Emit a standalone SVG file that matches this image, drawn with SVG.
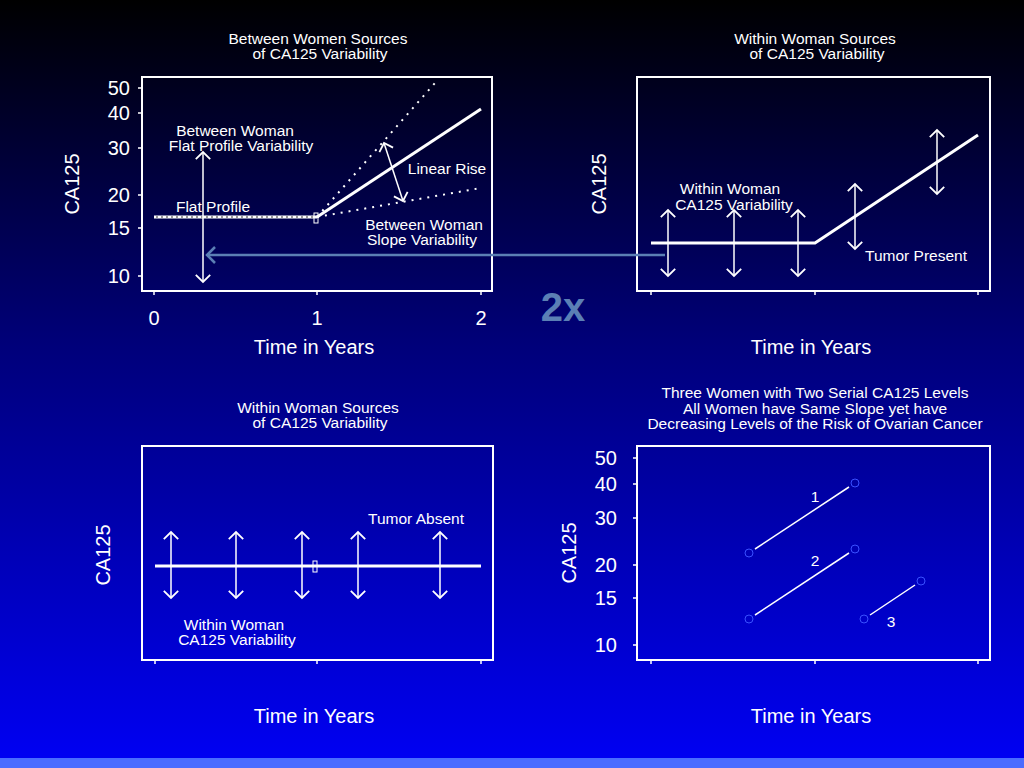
<svg xmlns="http://www.w3.org/2000/svg" width="1024" height="768" viewBox="0 0 1024 768">
<defs>
<linearGradient id="bg" x1="0" y1="0" x2="0" y2="1">
<stop offset="0" stop-color="#000000"/><stop offset="0.45" stop-color="#00007a"/><stop offset="1" stop-color="#0000f5"/>
</linearGradient>
<marker id="v" viewBox="0 0 20 20" refX="10" refY="10" markerWidth="18" markerHeight="18" markerUnits="userSpaceOnUse" orient="auto-start-reverse">
<path d="M2,2 L10,10 L2,18" fill="none" stroke="#fff" stroke-width="2"/>
</marker>
<marker id="b" viewBox="0 0 20 20" refX="11" refY="10" markerWidth="20" markerHeight="20" markerUnits="userSpaceOnUse" orient="auto">
<path d="M3,2 L11,10 L3,18" fill="none" stroke="#5b7fb5" stroke-width="2.5"/>
</marker>
</defs>
<style>
text{font-family:"Liberation Sans",Arial,sans-serif;fill:#fff}
.t{font-size:15.5px;text-anchor:middle}
.l{font-size:15.5px;text-anchor:middle}
.ax{font-size:20px;text-anchor:middle}
.tk{font-size:20px;text-anchor:end}
.box{fill:none;stroke:#fff;stroke-width:2}
.ln{stroke:#fff;stroke-width:3;fill:none}
.dot{stroke:#fff;stroke-width:2;stroke-dasharray:2 6;fill:none}
.da{stroke:#fff;stroke-width:1.5;fill:none;marker-start:url(#v);marker-end:url(#v)}
.th{stroke:#fff;stroke-width:1.5;fill:none}
.c{fill:none;stroke:#3a50ff;stroke-width:1}
</style>
<rect width="1024" height="768" fill="url(#bg)"/>
<rect y="758" width="1024" height="10" fill="#4a6cff"/>

<g id="panel-tl">
<text class="t" x="318" y="44">Between Women Sources</text>
<text class="t" x="320" y="59">of CA125 Variability</text>
<rect class="box" x="142" y="77" width="350" height="214"/>
<g class="th"><path d="M142,88h-4M142,113h-4M142,148h-4M142,195h-4M142,228h-4M142,276h-4M154,291v4M317,291v4M481,291v4"/></g>
<text class="tk" x="130" y="95">50</text><text class="tk" x="130" y="120">40</text><text class="tk" x="130" y="155">30</text>
<text class="tk" x="130" y="202">20</text><text class="tk" x="130" y="235">15</text><text class="tk" x="130" y="283">10</text>
<text class="ax" x="154" y="325">0</text><text class="ax" x="317" y="325">1</text><text class="ax" x="481" y="325">2</text>
<text class="ax" x="79" y="184" transform="rotate(-90 79 184)">CA125</text>
<text class="ax" x="314" y="354">Time in Years</text>
<line class="ln" x1="154" y1="217" x2="317" y2="217"/>
<line x1="156" y1="217" x2="315" y2="217" stroke="#333" stroke-width="1" stroke-dasharray="2 3"/>
<line class="ln" x1="317" y1="217" x2="481" y2="109"/>
<line class="dot" x1="317" y1="217" x2="435" y2="83"/>
<line class="dot" x1="317" y1="217" x2="481" y2="188"/>
<rect x="314" y="213" width="4" height="10" fill="none" stroke="#fff" stroke-width="1"/>
<line class="da" x1="203" y1="152" x2="203" y2="282"/>
<line class="da" x1="384" y1="143" x2="403" y2="201"/>
<text class="l" x="235" y="136">Between Woman</text>
<text class="l" x="241" y="151">Flat Profile Variability</text>
<text class="l" x="447" y="174">Linear Rise</text>
<text class="l" x="213" y="212">Flat Profile</text>
<text class="l" x="424" y="230">Between Woman</text>
<text class="l" x="422" y="245">Slope Variability</text>
</g>

<g id="panel-tr">
<text class="t" x="815" y="44">Within Woman Sources</text>
<text class="t" x="817" y="59">of CA125 Variability</text>
<rect class="box" x="637" y="77" width="353" height="214"/>
<g class="th"><path d="M651,291v4M815,291v4M978,291v4"/></g>
<text class="ax" x="606" y="184" transform="rotate(-90 606 184)">CA125</text>
<text class="ax" x="811" y="354">Time in Years</text>
<polyline class="ln" points="651,243 815,243 978,135"/>
<line class="da" x1="668" y1="210" x2="668" y2="276"/>
<line class="da" x1="734" y1="210" x2="734" y2="276"/>
<line class="da" x1="798" y1="210" x2="798" y2="276"/>
<line class="da" x1="855" y1="184" x2="855" y2="249"/>
<line class="da" x1="937" y1="130" x2="937" y2="194"/>
<text class="l" x="730" y="194">Within Woman</text>
<text class="l" x="734" y="210">CA125 Variability</text>
<text class="l" x="916" y="261">Tumor Present</text>
</g>

<g id="connectors">
<line x1="665" y1="255" x2="207" y2="255" stroke="#5b7fb5" stroke-width="2.5" marker-end="url(#b)"/>
<text x="563" y="321" font-size="40" font-weight="bold" text-anchor="middle" style="fill:#5b7fb5">2x</text>
</g>

<g id="panel-bl">
<text class="t" x="318" y="413">Within Woman Sources</text>
<text class="t" x="320" y="428">of CA125 Variability</text>
<rect class="box" x="142" y="446" width="351" height="214"/>
<g class="th"><path d="M155,660v4M317,660v4M481,660v4"/></g>
<text class="ax" x="110" y="555" transform="rotate(-90 110 555)">CA125</text>
<text class="ax" x="314" y="723">Time in Years</text>
<line class="ln" x1="155" y1="566" x2="481" y2="566"/>
<rect x="313" y="561" width="4" height="11" fill="none" stroke="#fff" stroke-width="1"/>
<line class="da" x1="171" y1="532" x2="171" y2="598"/>
<line class="da" x1="236" y1="532" x2="236" y2="598"/>
<line class="da" x1="302" y1="532" x2="302" y2="598"/>
<line class="da" x1="358" y1="532" x2="358" y2="598"/>
<line class="da" x1="440" y1="532" x2="440" y2="598"/>
<text class="l" x="416" y="524">Tumor Absent</text>
<text class="l" x="234" y="630">Within Woman</text>
<text class="l" x="237" y="645">CA125 Variability</text>
</g>

<g id="panel-br">
<text class="t" x="815" y="398">Three Women with Two Serial CA125 Levels</text>
<text class="t" x="815" y="414">All Women have Same Slope yet have</text>
<text class="t" x="815" y="429">Decreasing Levels of the Risk of Ovarian Cancer</text>
<rect class="box" x="637" y="446" width="353" height="214"/>
<g class="th"><path d="M637,458h-4M637,484h-4M637,518h-4M637,565h-4M637,598h-4M637,645h-4M651,660v4M815,660v4M978,660v4"/></g>
<text class="tk" x="617" y="465">50</text><text class="tk" x="617" y="491">40</text><text class="tk" x="617" y="525">30</text>
<text class="tk" x="617" y="572">20</text><text class="tk" x="617" y="605">15</text><text class="tk" x="617" y="652">10</text>
<text class="ax" x="576" y="553" transform="rotate(-90 576 553)">CA125</text>
<text class="ax" x="811" y="723">Time in Years</text>
<line class="th" x1="755" y1="549" x2="849" y2="487"/>
<line class="th" x1="755" y1="615" x2="849" y2="553"/>
<line class="th" x1="870" y1="615" x2="915" y2="585"/>
<circle class="c" cx="749" cy="553" r="4"/><circle class="c" cx="855" cy="483" r="4"/>
<circle class="c" cx="749" cy="619" r="4"/><circle class="c" cx="855" cy="549" r="4"/>
<circle class="c" cx="864" cy="619" r="4"/><circle class="c" cx="921" cy="581" r="4"/>
<text class="l" x="815" y="502">1</text><text class="l" x="815" y="566">2</text><text class="l" x="891" y="627">3</text>
</g>
</svg>
